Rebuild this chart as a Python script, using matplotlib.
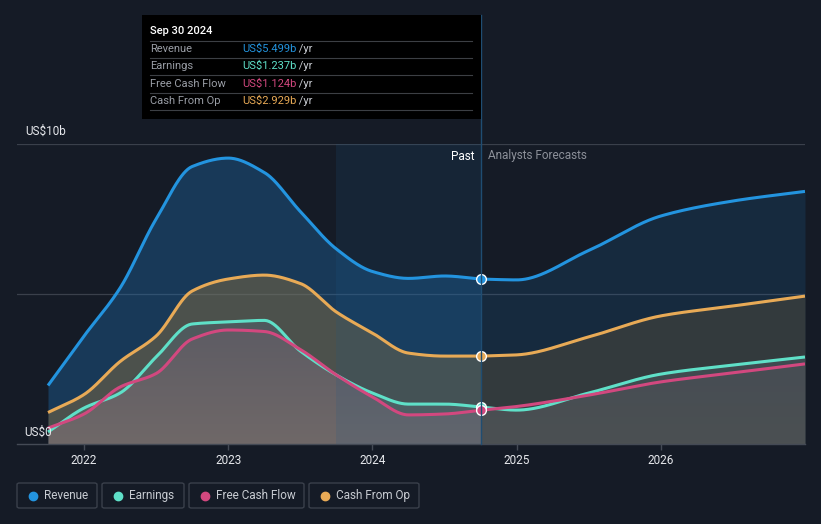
import numpy as np
import matplotlib
matplotlib.use("Agg")
import matplotlib.pyplot as plt
from matplotlib.patches import Rectangle, FancyBboxPatch
from matplotlib.lines import Line2D

plt.rcParams['font.family'] = ['Roboto', 'DejaVu Sans']

# ---------------- data (US$ billions) ----------------
past_dates = [2021.75, 2022.0, 2022.25, 2022.5, 2022.75, 2023.0, 2023.25,
              2023.5, 2023.75, 2024.0, 2024.25, 2024.5, 2024.75]
fc_dates = [2024.75, 2025.0, 2025.5, 2026.0, 2026.5, 2027.0]

revenue_past = [1.95, 3.6, 5.2, 7.5, 9.25, 9.53, 9.05, 7.75, 6.5, 5.75, 5.52, 5.6, 5.499]
revenue_fc = [5.499, 5.47, 6.45, 7.6, 8.1, 8.42]

cfo_past = [1.05, 1.65, 2.75, 3.6, 5.1, 5.5, 5.63, 5.35, 4.4, 3.7, 3.03, 2.93, 2.929]
cfo_fc = [2.929, 2.97, 3.57, 4.27, 4.6, 4.93]

earn_past = [0.4, 1.2, 1.7, 2.9, 4.0, 4.07, 4.12, 3.1, 2.3, 1.7, 1.33, 1.33, 1.237]
earn_fc = [1.237, 1.13, 1.7, 2.33, 2.63, 2.9]

fcf_past = [0.53, 1.0, 1.9, 2.35, 3.5, 3.8, 3.75, 3.15, 2.3, 1.57, 0.97, 1.0, 1.124]
fcf_fc = [1.124, 1.25, 1.63, 2.07, 2.37, 2.67]

tick_years = [2022, 2023, 2024, 2025, 2026]
tooltip_date = "Sep 30 2024"
tooltip_vals = ["US$5.499b", "US$1.237b", "US$1.124b", "US$2.929b"]
series_names = ["Revenue", "Earnings", "Free Cash Flow", "Cash From Op"]

C_REV = '#2394df'
C_EARN = '#5fe0c8'
C_FCF = '#d2487f'
C_CFO = '#e8aa56'
BG = '#151b26'

W, H = 821, 524


def fx(px):
    return px / W


def fy(py):
    return 1 - py / H


def monotone(x, y, n=400):
    x = np.asarray(x, float)
    y = np.asarray(y, float)
    h = np.diff(x)
    d = np.diff(y) / h
    m = np.zeros_like(y)
    m[0] = d[0]
    m[-1] = d[-1]
    for i in range(1, len(y) - 1):
        if d[i - 1] * d[i] <= 0:
            m[i] = 0
        else:
            w1 = 2 * h[i] + h[i - 1]
            w2 = h[i] + 2 * h[i - 1]
            m[i] = (w1 + w2) / (w1 / d[i - 1] + w2 / d[i])
    xs = np.linspace(x[0], x[-1], n)
    idx = np.clip(np.searchsorted(x, xs) - 1, 0, len(x) - 2)
    t = (xs - x[idx]) / h[idx]
    h00 = 2 * t**3 - 3 * t**2 + 1
    h10 = t**3 - 2 * t**2 + t
    h01 = -2 * t**3 + 3 * t**2
    h11 = t**3 - t**2
    ys = h00 * y[idx] + h10 * h[idx] * m[idx] + h01 * y[idx + 1] + h11 * h[idx] * m[idx + 1]
    return xs, ys


fig = plt.figure(figsize=(W / 100, H / 100), dpi=100, facecolor=BG)
ax = fig.add_axes([fx(17), fy(444), fx(805) - fx(17), fy(144) - fy(444)])
ax.set_facecolor(BG)
ax.set_xlim(2021.535, 2027.0)
ax.set_ylim(0, 10)

# gridlines
for v in [5, 10]:
    ax.axhline(v, color='#3a404b', lw=0.9, zorder=1)

series = [
    (revenue_past, revenue_fc, C_REV, '#1f6fb0', 0.37, 0.18),
    (cfo_past, cfo_fc, C_CFO, '#9b763c', 0.40, 0.22),
    (earn_past, earn_fc, C_EARN, '#7f9a90', 0.28, 0.20),
    (fcf_past, fcf_fc, C_FCF, '#a07080', 0.30, 0.10),
]

for i, (p, f, lc, fc, ap, af) in enumerate(series):
    xp, yp = monotone(past_dates, p)
    xf, yf = monotone(fc_dates, f)
    ax.fill_between(xp, 0, yp, color=fc, alpha=ap, lw=0, zorder=2 + i * 0.1)
    ax.fill_between(xf, 0, yf, color=fc, alpha=af, lw=0, zorder=2 + i * 0.1)

# soft darkening toward the bottom of the lower fills
grad = np.linspace(0, 1, 256).reshape(-1, 1)
xg, yg = monotone(past_dates, [max(a, b) for a, b in zip(earn_past, fcf_past)])
xg2, yg2 = monotone(fc_dates, [max(a, b) for a, b in zip(earn_fc, fcf_fc)])
for xs_, ys_ in [(xg, yg), (xg2, yg2)]:
    poly = ax.fill_between(xs_, 0, ys_, color='none', lw=0)
    im = ax.imshow(np.dstack([np.full((256, 1), 0.22), np.full((256, 1), 0.26),
                              np.full((256, 1), 0.36), 0.35 * (1 - grad)]),
                   extent=[xs_[0], xs_[-1], 0, 4.2], origin='upper', aspect='auto',
                   zorder=2.45)
    im.set_clip_path(poly.get_paths()[0], transform=ax.transData)
ax.set_xlim(2021.535, 2027.0)
ax.set_ylim(0, 10)

# highlight last year of past
ax.axvspan(2023.75, 2024.75, color='#1e5a8a', alpha=0.16, lw=0, zorder=3)

for i, (p, f, lc, fc, ap, af) in enumerate(series):
    xp, yp = monotone(past_dates, p)
    xf, yf = monotone(fc_dates, f)
    ax.plot(np.r_[xp, xf], np.r_[yp, yf], color=lc, lw=2.2, zorder=5 + i * 0.1,
            solid_capstyle='butt')

for p, c in [(revenue_past, C_REV), (cfo_past, C_CFO), (earn_past, C_EARN), (fcf_past, C_FCF)]:
    ax.plot([past_dates[-1]], [p[-1]], 'o', ms=7, mfc=c, mec='white', mew=1.0, zorder=8)

for s in ['top', 'right', 'left']:
    ax.spines[s].set_visible(False)
ax.spines['bottom'].set_color('#444a55')
ax.spines['bottom'].set_linewidth(1.0)
ax.set_yticks([])
ax.set_xticks(tick_years)
ax.set_xticklabels([str(y) for y in tick_years])
ax.tick_params(axis='x', colors='#444a55', length=4, width=1, labelcolor='#e6e8ec',
               labelsize=8.5, pad=3.5)

# y labels
fig.text(fx(25), fy(131), 'US$10b', color='#e6e8ec', fontsize=8.5, va='center', ha='left')
fig.text(fx(24), fy(432), 'US$0', color='#e6e8ec', fontsize=8.5, va='center', ha='left', zorder=10)

# Past / Forecast labels
ax.text(2024.75 - 0.045, 9.6, 'Past', color='#ffffff', fontsize=8.5, ha='right', va='center', zorder=9)
ax.text(2024.75 + 0.05, 9.6, 'Analysts Forecasts', color='#8c9099', fontsize=8.5, ha='left', va='center', zorder=9)

# vertical marker line
fig.add_artist(Line2D([fx(481), fx(481)], [fy(15), fy(444)], color='#1f4d72', lw=1.0, zorder=4))

# tooltip
fig.add_artist(Rectangle((fx(142), fy(119)), fx(481) - fx(142), fy(15) - fy(119),
                         facecolor='#000000', edgecolor='none', zorder=20))
fig.text(fx(150), fy(31), tooltip_date, color='#ffffff', fontsize=8, fontweight='medium',
         va='center', ha='left', zorder=21)
row_y = [49, 66, 84, 101]
sep_y = [41, 58, 75, 93, 110]
for yy in sep_y:
    fig.add_artist(Line2D([fx(150), fx(472)], [fy(yy), fy(yy)], color='#3c3f44', lw=0.8, zorder=21))
renderer = fig.canvas.get_renderer()
for name, val, col, yy in zip(series_names, tooltip_vals, [C_REV, C_EARN, C_FCF, C_CFO], row_y):
    fig.text(fx(150), fy(yy), name, color='#9a9ea6', fontsize=8, va='center', ha='left', zorder=22)
    t = fig.text(fx(242), fy(yy), val, color=col, fontsize=8, va='center', ha='left', zorder=22)
    bb = t.get_window_extent(renderer)
    fig.text(bb.x1 / W, fy(yy), ' /yr', color='#c9ccd2', fontsize=8, va='center', ha='left', zorder=22)

# legend
legend_boxes = [(17, 97), (102, 184), (189, 304), (309, 419)]
for (x0, x1), name, col in zip(legend_boxes, series_names, [C_REV, C_EARN, C_FCF, C_CFO]):
    fig.add_artist(FancyBboxPatch((fx(x0), fy(508)), fx(x1) - fx(x0), fy(483) - fy(508),
                                  boxstyle='round,pad=0,rounding_size=0.003',
                                  facecolor='none', edgecolor='#3a404b', lw=1.0))
    fig.add_artist(Line2D([fx(x0 + 15.5)], [fy(495.5)], marker='o', ms=6, color=col, lw=0))
    fig.text(fx(x0 + 27), fy(495.5), name, color='#c8ccd2', fontsize=8.5, va='center', ha='left')

fig.savefig('out.png', dpi=100, facecolor=BG)
